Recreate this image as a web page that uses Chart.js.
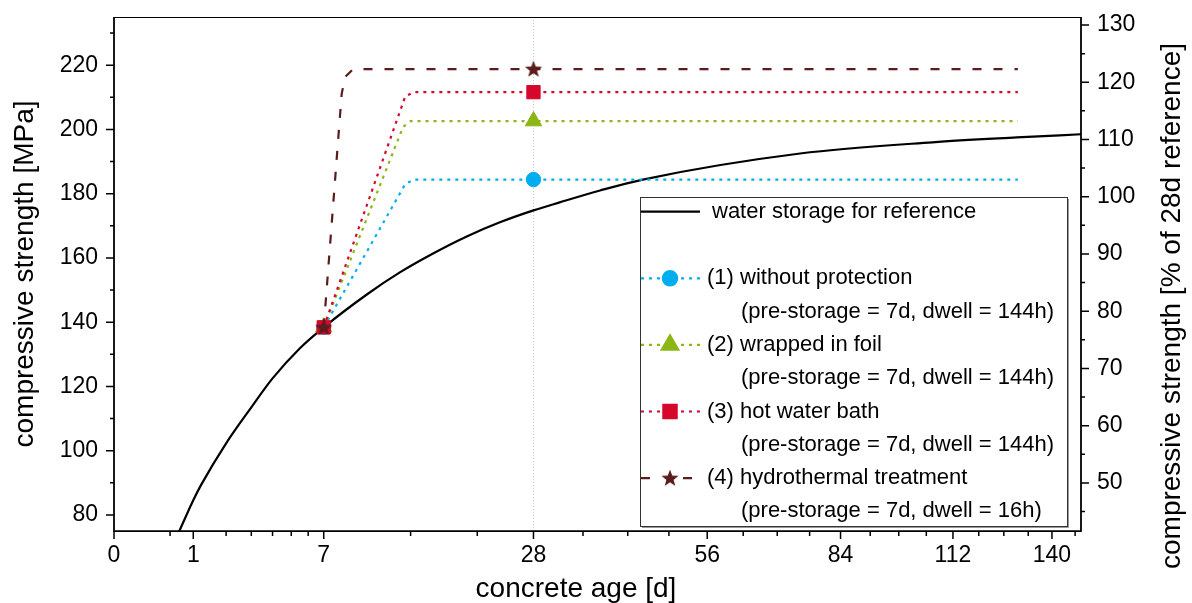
<!DOCTYPE html>
<html>
<head>
<meta charset="utf-8">
<script src="https://cdn.jsdelivr.net/npm/chart.js@4.4.1/dist/chart.umd.min.js"></script>
<style>
html, body { margin: 0; padding: 0; background: #fff; }
#wrap { width: 1192px; height: 603px; }
</style>
</head>
<body>
<div id="wrap"><canvas id="strengthChart" width="1192" height="603"></canvas></div>
<script>
// axis ticks (concrete age in days, square-root scale)
const xMajor = [0, 1, 7, 28, 56, 84, 112, 140];
const xMinor = [0.5, 2, 3, 4, 5, 6, 14, 21, 35, 42, 49, 63, 70, 77, 91, 98, 105, 119, 126, 133, 147];
const yMajor = [80, 100, 120, 140, 160, 180, 200, 220];
const yMinor = [90, 110, 130, 150, 170, 190, 210, 230];
const y2Major = [50, 60, 70, 80, 90, 100, 110, 120, 130];
const y2Minor = [45, 55, 65, 75, 85, 95, 105, 115, 125];

// water storage reference curve
const refDays = [0.6, 1, 1.2, 2, 3, 4, 5.5, 7, 10.2, 13, 16.2, 19.8, 23.7, 28, 31.6, 37.6, 44.5, 74.9, 106.6, 129.7, 148.8];
const refStrength = [72.2, 84.6, 89.2, 102.3, 113.5, 122.5, 131.9, 138.4, 148.7, 155.5, 161.4, 166.7, 171.1, 174.8, 177.3, 181.0, 184.4, 192.5, 196.0, 197.5, 198.5];

// heat treatments
const s1Days = [7, 13.5, 14.3, 28, 130];
const s1Strength = [138.4, 183.0, 184.4, 184.4, 184.4];
const s2Days = [7, 13.3, 14.0, 28, 130];
const s2Strength = [138.4, 200.8, 202.6, 202.6, 202.6];
const s3Days = [7, 13.5, 14.3, 28, 130];
const s3Strength = [138.4, 210.3, 211.6, 211.6, 211.6];
const s4Days = [7, 8.25, 8.5, 9.1, 28, 130];
const s4Strength = [138.4, 211.1, 216.3, 218.8, 218.8, 218.8];
const markerDays = [7, 28];

const seriesNames = ['water storage for reference', '(1) without protection', '(2) wrapped in foil', '(3) hot water bath', '(4) hydrothermal treatment'];
const seriesNotes = ['', '(pre-storage = 7d, dwell = 144h)', '(pre-storage = 7d, dwell = 144h)', '(pre-storage = 7d, dwell = 144h)', '(pre-storage = 7d, dwell = 16h)'];

const FONT = '"Liberation Sans", Arial, sans-serif';
const cyan = '#00aeef', green = '#8cb614', red = '#d5082c', brown = '#5a1c1c';

// square root axis
class SqrtScale extends Chart.Scale {
  static id = 'sqrt';
  static defaults = {};
  determineDataLimits() {
    this.min = this.options.min;
    this.max = this.options.max;
  }
  buildTicks() {
    return xMajor.concat(xMinor).sort((a, b) => a - b).map(v => ({ value: v }));
  }
  getLabelForValue(v) { return String(v); }
  configure() {
    super.configure();
    this._startValue = Math.sqrt(this.min);
    this._valueRange = Math.sqrt(this.max) - this._startValue;
  }
  getPixelForValue(value) {
    return this.getPixelForDecimal((Math.sqrt(value) - this._startValue) / this._valueRange);
  }
  getValueForPixel(pixel) {
    const d = this.getDecimalForPixel(pixel);
    return Math.pow(this._startValue + d * this._valueRange, 2);
  }
}
Chart.register(SqrtScale);

// filled 5 point star marker
function makeStar(color) {
  const c = document.createElement('canvas');
  c.width = 20; c.height = 20;
  const g = c.getContext('2d');
  g.fillStyle = color;
  g.beginPath();
  for (let i = 0; i < 10; i++) {
    const r = i % 2 === 0 ? 9 : 3.8;
    const a = -Math.PI / 2 + i * Math.PI / 5;
    g.lineTo(10 + r * Math.cos(a), 10.5 + r * Math.sin(a));
  }
  g.closePath();
  g.fill();
  return c;
}
const star = makeStar(brown);

function pairs(xs, ys) { return xs.map((x, i) => ({ x: x, y: ys[i] })); }
function markerRadius(r) {
  return ctx => (ctx.raw && markerDays.includes(ctx.raw.x)) ? r : 0;
}

const styles = [
  { color: '#000', dash: [], style: 'circle', radius: 0 },
  { color: cyan, dash: [3, 5], style: 'circle', radius: 7.2 },
  { color: green, dash: [3, 5], style: 'triangle', radius: 9.5 },
  { color: red, dash: [3, 5], style: 'rect', radius: 9.4 },
  { color: brown, dash: [9, 12], style: star, radius: 9 }
];

function treatment(i, xs, ys) {
  const s = styles[i];
  return {
    label: seriesNames[i],
    data: pairs(xs, ys),
    borderColor: s.color,
    backgroundColor: s.color,
    borderWidth: 2.2,
    borderDash: s.dash,
    tension: 0,
    pointStyle: s.style,
    pointRadius: markerRadius(s.radius),
    pointBackgroundColor: s.color,
    pointBorderColor: s.color,
    pointBorderWidth: 1,
    order: 5 - i
  };
}

const frame = {
  id: 'frame',
  beforeDatasetsDraw(chart) {
    const { ctx, chartArea: a } = chart;
    const px = Math.round(chart.scales.x.getPixelForValue(28)) + 0.5;
    ctx.save();
    ctx.strokeStyle = '#c8c8c8';
    ctx.lineWidth = 1;
    ctx.setLineDash([1, 2]);
    ctx.beginPath();
    ctx.moveTo(px, a.top);
    ctx.lineTo(px, a.bottom);
    ctx.stroke();
    ctx.restore();
  },
  afterDraw(chart) {
    const { ctx, chartArea: a, scales } = chart;
    ctx.save();
    // axes box
    ctx.strokeStyle = '#000';
    ctx.lineWidth = 1;
    ctx.strokeRect(a.left, a.top + 0.5, a.right - a.left, a.bottom - a.top);
    ctx.lineWidth = 1.6;
    ctx.beginPath();
    ctx.moveTo(a.left, a.top);
    ctx.lineTo(a.left, a.bottom);
    ctx.lineTo(a.right, a.bottom);
    ctx.lineTo(a.right, a.top);
    ctx.stroke();

    // tick marks
    ctx.lineWidth = 1.5;
    ctx.beginPath();
    scales.x.ticks.forEach(t => {
      const p = scales.x.getPixelForValue(t.value);
      const len = xMajor.includes(t.value) ? 8 : 5;
      ctx.moveTo(p, a.bottom);
      ctx.lineTo(p, a.bottom + len);
    });
    scales.y.ticks.forEach(t => {
      const p = scales.y.getPixelForValue(t.value);
      const len = yMajor.includes(t.value) ? 8 : 4;
      ctx.moveTo(a.left, p);
      ctx.lineTo(a.left - len, p);
    });
    y2Major.concat(y2Minor).forEach(v => {
      const p = scales.y2.getPixelForValue(v);
      const len = y2Major.includes(v) ? 8 : 4;
      ctx.moveTo(a.right, p);
      ctx.lineTo(a.right + len, p);
    });
    ctx.stroke();

    // right axis labels
    ctx.fillStyle = '#000';
    ctx.font = '23px ' + FONT;
    ctx.textAlign = 'left';
    ctx.textBaseline = 'middle';
    y2Major.forEach(v => ctx.fillText(String(v), a.right + 16, scales.y2.getPixelForValue(v)));

    // axis titles
    ctx.font = '28px ' + FONT;
    ctx.textAlign = 'center';
    ctx.textBaseline = 'alphabetic';
    ctx.fillText('concrete age [d]', 576, 597);
    ctx.save();
    ctx.translate(33, 274);
    ctx.rotate(-Math.PI / 2);
    ctx.fillText('compressive strength [MPa]', 0, 0);
    ctx.restore();
    ctx.save();
    ctx.translate(1180, 306);
    ctx.rotate(-Math.PI / 2);
    ctx.fillText('compressive strength [% of 28d reference]', 0, 0);
    ctx.restore();

    // legend box
    const bx = 640, by = 197, bw = 427, bh = 329;
    ctx.fillStyle = '#fff';
    ctx.fillRect(bx, by, bw, bh);
    ctx.strokeStyle = '#999';
    ctx.lineWidth = 1;
    ctx.beginPath();
    ctx.moveTo(bx + bw + 1.5, by + 2);
    ctx.lineTo(bx + bw + 1.5, by + bh + 1.5);
    ctx.lineTo(bx + 2, by + bh + 1.5);
    ctx.stroke();
    ctx.strokeStyle = '#333';
    ctx.strokeRect(bx + 0.5, by + 0.5, bw, bh);

    const rowH = 33.3, y0 = 211.7;
    const rows = [0, 2, 4, 6, 8];
    ctx.font = '22px ' + FONT;
    ctx.textAlign = 'left';
    ctx.textBaseline = 'middle';
    styles.forEach((s, i) => {
      const y = y0 + rows[i] * rowH;
      ctx.strokeStyle = s.color;
      ctx.lineWidth = 2.2;
      ctx.setLineDash(s.dash);
      ctx.beginPath();
      ctx.moveTo(641, y);
      ctx.lineTo(700, y);
      ctx.stroke();
      ctx.setLineDash([]);
      if (i > 0) {
        ctx.fillStyle = '#fff';
        ctx.fillRect(670 - 9, y - 9, 18, 18);
        ctx.fillStyle = s.color;
        Chart.helpers.drawPoint(ctx, { pointStyle: s.style, radius: s.radius, rotation: 0, borderWidth: 1 }, 670, y);
      }
      ctx.fillStyle = '#000';
      ctx.fillText(seriesNames[i], i === 0 ? 712 : 707, y);
      if (seriesNotes[i]) ctx.fillText(seriesNotes[i], 741, y + rowH);
    });
    ctx.restore();
  }
};

const tickFont = { family: FONT, size: 23 };

new Chart(document.getElementById('strengthChart'), {
  type: 'line',
  data: {
    datasets: [
      {
        label: seriesNames[0],
        data: pairs(refDays, refStrength),
        borderColor: '#000',
        borderWidth: 2.2,
        pointRadius: 0,
        cubicInterpolationMode: 'monotone',
        order: 6
      },
      treatment(1, s1Days, s1Strength),
      treatment(2, s2Days, s2Strength),
      treatment(3, s3Days, s3Strength),
      treatment(4, s4Days, s4Strength)
    ]
  },
  options: {
    responsive: false,
    animation: false,
    devicePixelRatio: 1,
    layout: { padding: { top: 17, left: 0, right: 0, bottom: 0 } },
    plugins: { legend: { display: false }, tooltip: { enabled: false } },
    scales: {
      x: {
        type: 'sqrt',
        position: 'bottom',
        min: 0,
        max: 148.8,
        grid: { display: false, drawTicks: false },
        border: { display: false },
        ticks: {
          autoSkip: false, maxRotation: 0, padding: 11, color: '#000', font: tickFont,
          callback: v => xMajor.includes(v) ? String(v) : ''
        },
        afterFit: s => { s.height = 72; }
      },
      y: {
        position: 'left',
        min: 75,
        max: 235,
        grid: { display: false, drawTicks: false },
        border: { display: false },
        ticks: {
          padding: 16, color: '#000', font: tickFont,
          callback: v => yMajor.includes(v) ? String(v) : ''
        },
        afterBuildTicks: s => { s.ticks = yMajor.concat(yMinor).sort((a, b) => a - b).map(v => ({ value: v })); },
        afterFit: s => { s.width = 114; s.paddingTop = 0; s.paddingBottom = 0; }
      },
      y2: {
        display: true,
        position: 'right',
        min: 41.6,
        max: 131.4,
        grid: { display: false, drawTicks: false },
        border: { display: false },
        ticks: { display: false },
        afterFit: s => { s.width = 111; s.paddingTop = 0; s.paddingBottom = 0; }
      }
    }
  },
  plugins: [frame]
});
</script>
</body>
</html>
